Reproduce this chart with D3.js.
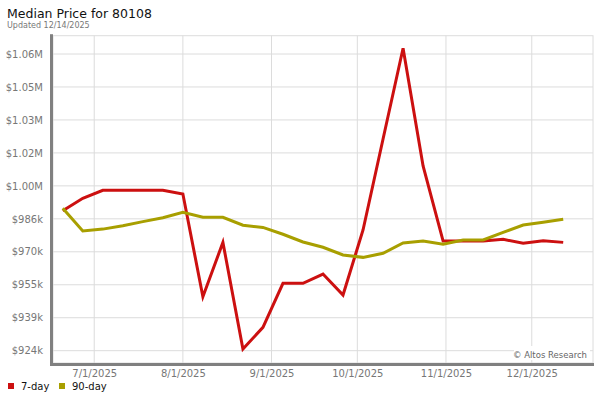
<!DOCTYPE html>
<html>
    <head>
        <meta charset="utf-8">
        <style>
            body { margin: 0; background: white; }
            svg { display: block; }
            text { font-family: "DejaVu Sans", sans-serif; }
            .grid line { stroke: #dcdcdc; stroke-width: 1; }
            .axis text { fill: #777; font-size: 10px; }
            .series { fill: none; stroke-width: 3; stroke-linejoin: miter; }
        </style>
        <script src="https://cdn.jsdelivr.net/npm/d3@7"></script>
    </head>
    <body>
        <div id="canvas"></div>
        <script>

            var canvas_w = 600;
            var canvas_h = 400;

            // weekly data points
            var dates = ["2025-06-20", "2025-06-27", "2025-07-04", "2025-07-11", "2025-07-18", "2025-07-25",
                         "2025-08-01", "2025-08-08", "2025-08-15", "2025-08-22", "2025-08-29", "2025-09-05",
                         "2025-09-12", "2025-09-19", "2025-09-26", "2025-10-03", "2025-10-10", "2025-10-17",
                         "2025-10-24", "2025-10-31", "2025-11-07", "2025-11-14", "2025-11-21", "2025-11-28",
                         "2025-12-05", "2025-12-12"];

            var price_7day = [989400, 995200, 998900, 998900, 998900, 998900,
                              997200, 949200, 974600, 924800, 934900, 955500,
                              955500, 959800, 950000, 980400, 1022900, 1065300,
                              1010300, 975200, 975200, 975200, 976000, 974200,
                              975400, 974600];

            var price_90day = [990500, 979900, 980800, 982400, 984300, 986100,
                               988600, 986300, 986300, 982600, 981600, 978400,
                               974800, 972300, 968700, 967600, 969500, 974300,
                               975200, 973700, 975700, 975700, 979300, 982700,
                               984000, 985400];

            var series_names = ["7-day", "90-day"];
            var series_colors = ["#cc1010", "#a89f00"];

            var x_ticks = ["2025-07-01", "2025-08-01", "2025-09-01", "2025-10-01", "2025-11-01", "2025-12-01"];
            var y_ticks = [924000, 939400, 954800, 970200, 985600, 1001000, 1016400, 1031800, 1047200, 1062600];

            var plot_l = 53, plot_r = 593, plot_t = 35.7, plot_b = 363;

            var parse = d3.timeParse("%Y-%m-%d");

            var x = d3.scaleTime()
                      .domain([new Date(2025, 5, 16, 14), new Date(2025, 11, 22, 10)])
                      .range([plot_l, plot_r]);

            var y = d3.scaleLinear()
                      .domain([918250, 1071150])
                      .range([plot_b, plot_t]);

            function fmtPrice(v) {
                if (v >= 1000000) return "$" + (v / 1000000).toFixed(2) + "M";
                return "$" + Math.round(v / 1000) + "k";
            }

            var svg = d3.select("#canvas").append("svg")
                        .attr("width", canvas_w)
                        .attr("height", canvas_h);

            // title
            svg.append("text").attr("x", 7).attr("y", 18)
               .style("font-size", "12.5px").style("fill", "#111")
               .text("Median Price for 80108");
            svg.append("text").attr("x", 7).attr("y", 28)
               .style("font-size", "8px").style("fill", "#777")
               .text("Updated 12/14/2025");

            // plot background + light border
            svg.append("rect")
               .attr("x", plot_l).attr("y", plot_t)
               .attr("width", plot_r - plot_l).attr("height", plot_b - plot_t)
               .attr("fill", "white").attr("stroke", "#dcdcdc");

            // grid lines
            var grid_g = svg.append("g").attr("class", "grid");
            grid_g.selectAll("line.h").data(y_ticks).enter().append("line")
                  .attr("x1", plot_l).attr("x2", plot_r)
                  .attr("y1", function(d) { return y(d); })
                  .attr("y2", function(d) { return y(d); });
            grid_g.selectAll("line.v").data(x_ticks).enter().append("line")
                  .attr("x1", function(d) { return x(parse(d)); })
                  .attr("x2", function(d) { return x(parse(d)); })
                  .attr("y1", plot_t).attr("y2", plot_b);

            // y axis labels
            var y_axis = d3.axisLeft(y).tickValues(y_ticks).tickFormat(fmtPrice).tickSize(0).tickPadding(10);
            svg.append("g").attr("class", "axis")
               .attr("transform", "translate(" + plot_l + ",0)")
               .call(y_axis)
               .call(function(g) { g.select(".domain").remove(); });

            // x axis labels
            var x_axis = d3.axisBottom(x).tickValues(x_ticks.map(parse))
                           .tickFormat(d3.timeFormat("%-m/%-d/%Y")).tickSize(0).tickPadding(7);
            svg.append("g").attr("class", "axis")
               .attr("transform", "translate(0," + plot_b + ")")
               .call(x_axis)
               .call(function(g) { g.select(".domain").remove(); });

            // heavy axis bars on left and bottom
            svg.append("rect").attr("x", plot_l - 3).attr("y", plot_t - 1.5)
               .attr("width", 3).attr("height", plot_b - plot_t + 4.5).attr("fill", "#808080");
            svg.append("rect").attr("x", plot_l - 3).attr("y", plot_b)
               .attr("width", 597 - plot_l).attr("height", 3).attr("fill", "#808080");

            // copyright
            svg.append("rect").attr("x", 514).attr("y", 346).attr("width", 76).attr("height", 14).attr("fill", "white");
            svg.append("text").attr("x", 587).attr("y", 357.5)
               .attr("text-anchor", "end")
               .style("font-size", "8.5px").style("fill", "#666")
               .text("\u00a9 Altos Research");

            // lines
            var series = [price_7day, price_90day];
            var line = d3.line()
                         .x(function(d, i) { return x(parse(dates[i])); })
                         .y(function(d) { return y(d); });

            svg.selectAll("path.series").data(series).enter().append("path")
               .attr("class", "series")
               .attr("stroke", function(d, i) { return series_colors[i]; })
               .attr("d", line);

            // legend
            var legend_x = [8, 59];
            var legend_g = svg.append("g");
            series_names.forEach(function(name, i) {
                legend_g.append("rect")
                        .attr("x", legend_x[i]).attr("y", 383)
                        .attr("width", 6).attr("height", 6)
                        .attr("fill", series_colors[i]);
                legend_g.append("text")
                        .attr("x", legend_x[i] + 13).attr("y", 390)
                        .style("font-size", "10px").style("fill", "#111")
                        .text(name);
            });

        </script>
    </body>
</html>
